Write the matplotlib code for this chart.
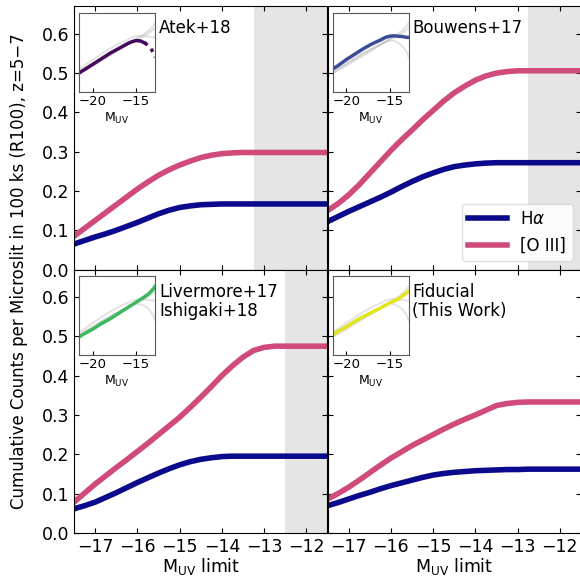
import numpy as np
import matplotlib
matplotlib.use("Agg")
import matplotlib.pyplot as plt

# ---------------------------------------------------------------------------
# Data
# ---------------------------------------------------------------------------
muv = [-17.5, -17.25, -17.0, -16.75, -16.5, -16.25, -16.0, -15.75, -15.5,
       -15.25, -15.0, -14.75, -14.5, -14.25, -14.0, -13.75, -13.5, -13.25,
       -13.0, -12.75, -12.5, -12.25, -12.0, -11.75, -11.5]

atek_ha = [0.065, 0.074, 0.083, 0.091, 0.100, 0.110, 0.120, 0.131, 0.142, 0.151,
           0.158, 0.162, 0.165, 0.166, 0.167, 0.167, 0.167, 0.167, 0.167, 0.167,
           0.167, 0.167, 0.167, 0.167, 0.167]
atek_o3 = [0.085, 0.105, 0.125, 0.145, 0.165, 0.185, 0.205, 0.223, 0.240, 0.254,
           0.266, 0.276, 0.285, 0.291, 0.295, 0.297, 0.298, 0.298, 0.298, 0.298,
           0.298, 0.298, 0.298, 0.298, 0.298]

bouwens_ha = [0.122, 0.135, 0.148, 0.160, 0.172, 0.184, 0.197, 0.211, 0.224, 0.236,
              0.246, 0.255, 0.262, 0.266, 0.269, 0.271, 0.272, 0.272, 0.272, 0.272,
              0.272, 0.272, 0.272, 0.272, 0.272]
bouwens_o3 = [0.150, 0.168, 0.190, 0.216, 0.245, 0.274, 0.303, 0.330, 0.355, 0.381,
              0.405, 0.429, 0.450, 0.467, 0.482, 0.493, 0.500, 0.504, 0.506, 0.506,
              0.506, 0.506, 0.506, 0.506, 0.506]

livermore_ha = [0.061, 0.069, 0.078, 0.090, 0.102, 0.115, 0.128, 0.140, 0.152, 0.163,
                0.173, 0.181, 0.187, 0.191, 0.194, 0.195, 0.195, 0.195, 0.195, 0.195,
                0.195, 0.195, 0.195, 0.195, 0.195]
livermore_o3 = [0.078, 0.101, 0.124, 0.145, 0.166, 0.186, 0.207, 0.228, 0.250, 0.272,
                0.294, 0.319, 0.345, 0.372, 0.400, 0.425, 0.447, 0.464, 0.472, 0.475,
                0.475, 0.475, 0.475, 0.475, 0.475]

fiducial_ha = [0.069, 0.077, 0.086, 0.095, 0.103, 0.112, 0.120, 0.127, 0.134, 0.141,
               0.147, 0.151, 0.154, 0.156, 0.158, 0.159, 0.160, 0.161, 0.161, 0.162,
               0.162, 0.162, 0.162, 0.162, 0.162]
fiducial_o3 = [0.086, 0.100, 0.116, 0.134, 0.153, 0.172, 0.190, 0.206, 0.222, 0.236,
               0.250, 0.264, 0.277, 0.289, 0.300, 0.312, 0.324, 0.329, 0.332, 0.333,
               0.333, 0.333, 0.333, 0.333, 0.333]

# start of the shaded (incomplete) region per panel; None = no shading
shade_start = [-13.25, -12.75, -12.5, None]

# inset: UV luminosity function shapes (arbitrary units, 0..1)
lf_muv = [-21.6, -21.0, -20.0, -19.0, -18.0, -17.0, -16.0, -15.5, -15.0, -14.5,
          -14.0, -13.5, -13.0, -12.8]
lf_atek = [0.24, 0.28, 0.35, 0.42, 0.49, 0.55, 0.61, 0.635, 0.65, 0.645, 0.62,
           0.58, 0.50, 0.44]
lf_bouwens = [0.29, 0.33, 0.41, 0.48, 0.55, 0.61, 0.66, 0.69, 0.705, 0.71, 0.705,
              0.70, 0.69, 0.69]
lf_livermore = [0.23, 0.27, 0.33, 0.40, 0.46, 0.53, 0.60, 0.635, 0.67, 0.705, 0.74,
                0.78, 0.84, 0.87]
lf_fiducial = [0.26, 0.30, 0.36, 0.43, 0.49, 0.545, 0.60, 0.63, 0.66, 0.685, 0.71,
               0.75, 0.79, 0.81]

names = ["Atek+18", "Bouwens+17", "Livermore+17\nIshigaki+18", "Fiducial\n(This Work)"]
lf_colors = ["#46085c", "#3d4c97", "#3cb95c", "#e2e41c"]

ha_list = [atek_ha, bouwens_ha, livermore_ha, fiducial_ha]
o3_list = [atek_o3, bouwens_o3, livermore_o3, fiducial_o3]
lf_list = [lf_atek, lf_bouwens, lf_livermore, lf_fiducial]

col_ha = "#0b0a8c"
col_o3 = "#d04a7c"

# ---------------------------------------------------------------------------
# Figure
# ---------------------------------------------------------------------------
plt.rcParams["font.family"] = "DejaVu Sans"
fig = plt.figure(figsize=(5.8, 5.76), dpi=100)

w, h = 0.437, 0.457
positions = [
    [0.1276, 0.532, w, h],
    [0.5647, 0.532, w, h],
    [0.1276, 0.075, w, h],
    [0.5647, 0.075, w, h],
]

axes = []
for i, pos in enumerate(positions):
    ax = fig.add_axes(pos)
    axes.append(ax)

    if shade_start[i] is not None:
        ax.axvspan(shade_start[i], -11.5, color="0.5", alpha=0.2, lw=0, zorder=0)

    ax.plot(muv, ha_list[i], color=col_ha, lw=4, label=r"H$\alpha$",
            solid_joinstyle="round")
    ax.plot(muv, o3_list[i], color=col_o3, lw=4, label="[O III]",
            solid_joinstyle="round")

    ax.set_xlim(-17.5, -11.5)
    ax.set_ylim(0, 0.67)
    ax.set_xticks([-17, -16, -15, -14, -13, -12])
    ax.set_yticks([0.0, 0.1, 0.2, 0.3, 0.4, 0.5, 0.6])
    ax.tick_params(direction="in", top=True, right=True, labelsize=12.5)
    if i < 2:
        ax.tick_params(labelbottom=False)
    else:
        ax.set_xlabel(r"M$_{\rm UV}$ limit", fontsize=12.5, labelpad=0)
    if i % 2 == 1:
        ax.tick_params(labelleft=False)

    ax.text(0.335, 0.95, names[i], transform=ax.transAxes, fontsize=12,
            ha="left", va="top", linespacing=1.1)

    # inset with the luminosity function shapes
    ins = ax.inset_axes([0.02, 0.675, 0.30, 0.30])
    for j in range(4):
        if j != i:
            ins.plot(lf_muv, lf_list[j], color="0.65", lw=1.5, alpha=0.3)
    if i == 0:
        ins.plot(lf_muv[:11], lf_list[i][:11], color=lf_colors[i], lw=2.5)
        ins.plot(lf_muv[10:], lf_list[i][10:], color=lf_colors[i], lw=2.5,
                 ls=(0, (1, 1.5)))
    else:
        ins.plot(lf_muv, lf_list[i], color=lf_colors[i], lw=2.5)
    ins.set_xlim(-21.6, -12.8)
    ins.set_ylim(0, 1)
    ins.set_yticks([])
    ins.set_xticks([-20, -15])
    ins.tick_params(labelsize=9.5, direction="in", length=3, pad=2)
    ins.set_xlabel(r"M$_{\rm UV}$", fontsize=9, labelpad=2)
    for sp in ins.spines.values():
        sp.set_color("0.35")

axes[1].legend(loc="lower right", fontsize=12, handlelength=2.3,
               framealpha=0.85, edgecolor="0.85")

fig.text(0.032, 0.53, "Cumulative Counts per Microslit in 100 ks (R100), z=5\u22127",
         rotation=90, fontsize=12, ha="center", va="center")

fig.savefig("out.png", dpi=100)
